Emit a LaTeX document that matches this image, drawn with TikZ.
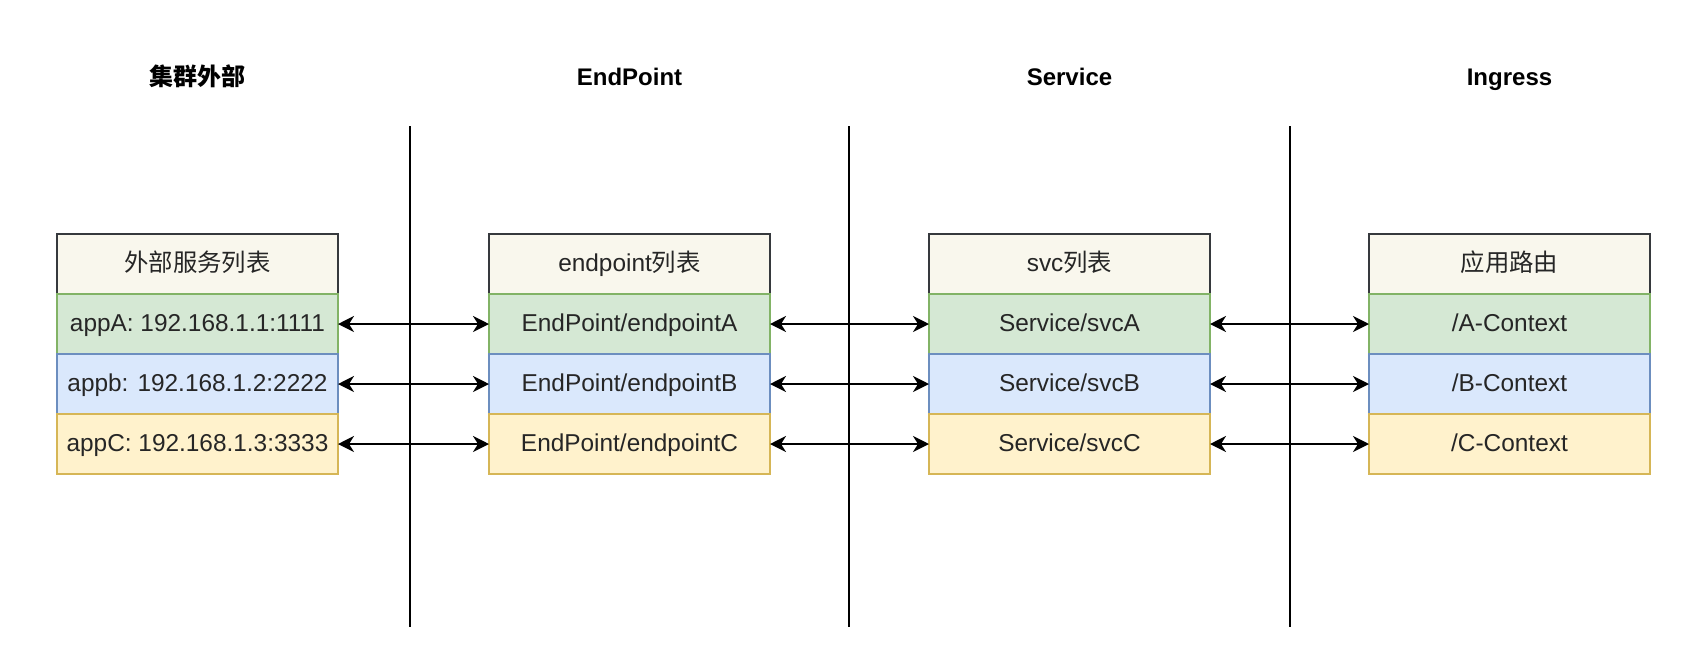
\documentclass[tikz,border=0pt]{standalone}
\usepackage{fontspec}
\setmainfont{Liberation Sans}
\newfontfamily\cjk{Noto Sans CJK SC}
\usetikzlibrary{positioning,arrows.meta}

\definecolor{headfill}{HTML}{F9F7ED}
\definecolor{headline}{HTML}{36393D}
\definecolor{greenfill}{HTML}{D5E8D4}
\definecolor{greenline}{HTML}{82B366}
\definecolor{bluefill}{HTML}{DAE8FC}
\definecolor{blueline}{HTML}{6C8EBF}
\definecolor{yellowfill}{HTML}{FFF2CC}
\definecolor{yellowline}{HTML}{D6B656}

\tikzset{
  cell/.style={draw, line width=1pt, minimum width=140.5pt, minimum height=30pt,
    inner sep=0pt, outer sep=0pt, text height=0.75em, text depth=0.03em,
    text=black!85, font=\fontsize{12.2}{14}\selectfont},
  head/.style={cell, fill=headfill, draw=headline},
  rowa/.style={cell, fill=greenfill, draw=greenline},
  rowb/.style={cell, fill=bluefill, draw=blueline},
  rowc/.style={cell, fill=yellowfill, draw=yellowline},
  title/.style={inner sep=0pt, text height=0.75em, text depth=0.03em,
    font=\fontsize{12}{14}\selectfont\bfseries},
  divider/.style={line width=1pt},
  link/.style={{Stealth[length=8pt,width=8pt,inset=2.5pt]}-{Stealth[length=8pt,width=8pt,inset=2.5pt]}, line width=1pt},
}

\begin{document}
\begin{tikzpicture}[x=0.5pt,y=-0.5pt]
  \useasboundingbox (0,0) rectangle (1705,654);

  % column titles
  \node[title] (tOut) at (197.5,78) {\cjk 集群外部};
  \node[title] (tEp)  at (629.5,78) {EndPoint};
  \node[title] (tSvc) at (1069.5,78) {Service};
  \node[title] (tIng) at (1509.5,78) {Ingress};

  % dividers
  \draw[divider] (410,126) -- (410,627);
  \draw[divider] (849,126) -- (849,627);
  \draw[divider] (1290,126) -- (1290,627);

  % outside the cluster
  \node[head] (outH) at (197.5,264) {\cjk 外部服务列表};
  \node[rowa, below=0pt of outH] (outA) {appA: 192.168.1.1:1111};
  \node[rowb, below=0pt of outA] (outB) {appb: 192.168.1.2:2222};
  \node[rowc, below=0pt of outB] (outC) {appC: 192.168.1.3:3333};

  % endpoints
  \node[head] (epH) at (629.5,264) {endpoint{\cjk 列表}};
  \node[rowa, below=0pt of epH] (epA) {EndPoint/endpointA};
  \node[rowb, below=0pt of epA] (epB) {EndPoint/endpointB};
  \node[rowc, below=0pt of epB] (epC) {EndPoint/endpointC};

  % services
  \node[head] (svcH) at (1069.5,264) {svc{\cjk 列表}};
  \node[rowa, below=0pt of svcH] (svcA) {Service/svcA};
  \node[rowb, below=0pt of svcA] (svcB) {Service/svcB};
  \node[rowc, below=0pt of svcB] (svcC) {Service/svcC};

  % ingress routes
  \node[head] (ingH) at (1509.5,264) {\cjk 应用路由};
  \node[rowa, below=0pt of ingH] (ingA) {/A-Context};
  \node[rowb, below=0pt of ingA] (ingB) {/B-Context};
  \node[rowc, below=0pt of ingB] (ingC) {/C-Context};

  % links
  \foreach \r in {A,B,C} {
    \draw[link] (out\r.east) -- (ep\r.west);
    \draw[link] (ep\r.east) -- (svc\r.west);
    \draw[link] (svc\r.east) -- (ing\r.west);
  }
\end{tikzpicture}
\end{document}
